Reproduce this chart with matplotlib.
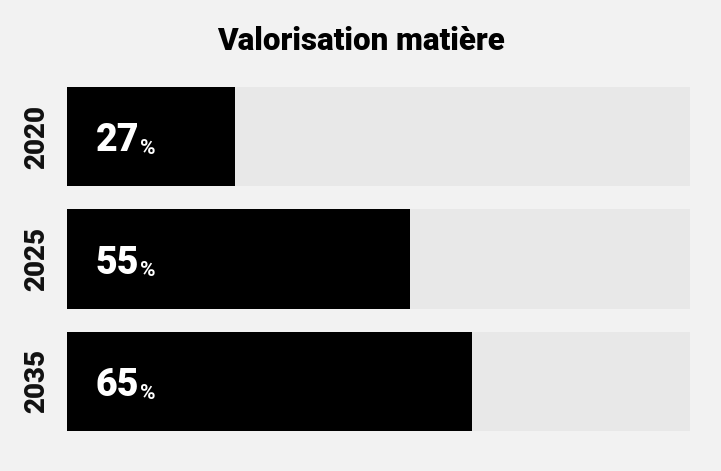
import matplotlib.pyplot as plt

# === Data
years = ['2020', '2025', '2035']
values = [27, 55, 65]
title = 'Valorisation matière'

bg = '#f2f2f2'
track = '#e8e8e8'

fig = plt.figure(figsize=(7.21, 4.71), dpi=100, facecolor=bg)
ax = fig.add_axes([67 / 721, 1 - 431 / 471, 623 / 721, 344 / 471])
ax.set_facecolor(bg)

h = 0.812
pos = list(range(len(years)))

# tracks + value bars
ax.barh(pos, [100] * len(years), height=h, color=track, zorder=1)
ax.barh(pos, values, height=h, color='black', zorder=2)

ax.set_xlim(0, 100)
ax.set_ylim(len(years) - 1 + h / 2, -h / 2)
ax.set_xticks([])
ax.set_yticks([])
for s in ax.spines.values():
    s.set_visible(False)

for p, yr, v in zip(pos, years, values):
    ax.text(-4.85, p, yr, rotation=90, ha='center', va='center',
            fontsize=20, fontweight='black', family='Roboto', color='#111111')
    t = ax.text(4.6, p + 0.035, str(v), ha='left', va='center',
                fontsize=27, fontweight='black', family='Roboto', color='white')
    ax.annotate('%', xy=(1, 0), xycoords=t, xytext=(0.5, 1), textcoords='offset points',
                ha='left', va='bottom', fontsize=15, fontweight='bold',
                family='Roboto', color='white')

fig.text(0.5, 1 - 41 / 471, title, ha='center', va='center',
         fontsize=22.5, fontweight='black', family='Roboto', color='black')

fig.savefig('out.png', dpi=100, facecolor=bg)
